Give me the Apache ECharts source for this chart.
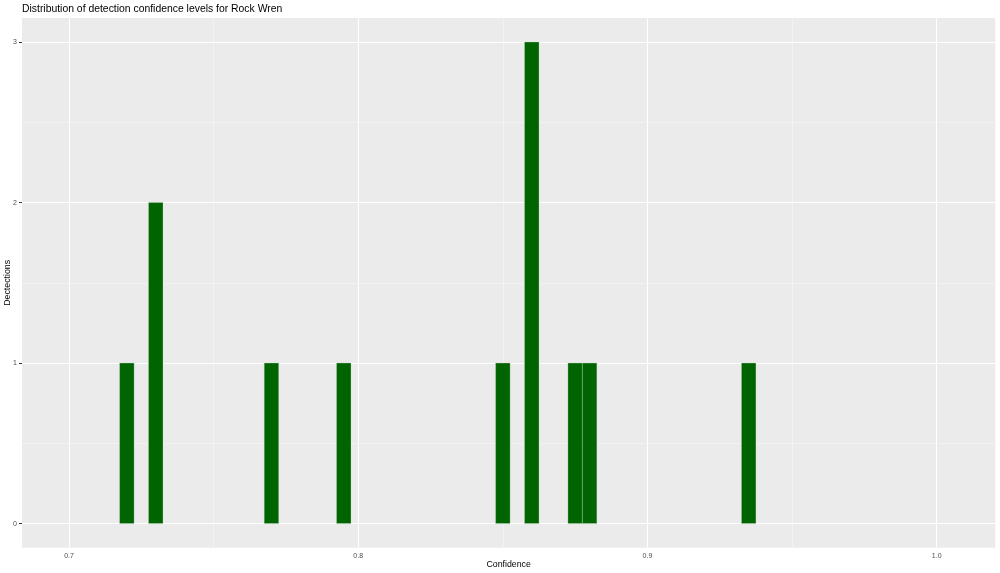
<!DOCTYPE html>
<html>
<head>
<meta charset="utf-8">
<script src="https://cdn.jsdelivr.net/npm/echarts@6/dist/echarts.min.js"></script>
<style>
html,body{margin:0;padding:0;background:#fff;}
#chart{width:1000px;height:573px;}
</style>
</head>
<body>
<div id="chart"></div>
<script>
// Data
const binCenters = [0.72, 0.73, 0.77, 0.795, 0.85, 0.86, 0.875, 0.88, 0.935];
const counts = [1, 2, 1, 1, 1, 3, 1, 1, 1];
const binWidth = 0.005;
const xTicks = [0.7, 0.8, 0.9, 1.0];
const xMinor = [0.75, 0.85, 0.95];
const yTicks = [0, 1, 2, 3];
const yMinor = [0.5, 1.5, 2.5];

const chart = echarts.init(document.getElementById('chart'), null, {renderer: 'canvas'});
const FONT = 'Liberation Sans, Arial, Helvetica, sans-serif';

const gridLines = [];
xTicks.forEach(v => gridLines.push({xAxis: v, lineStyle: {color: '#FFFFFF', width: 1.1, type: 'solid'}}));
xMinor.forEach(v => gridLines.push({xAxis: v, lineStyle: {color: '#F4F4F4', width: 0.8, type: 'solid'}}));
yTicks.forEach(v => gridLines.push({yAxis: v, lineStyle: {color: '#FFFFFF', width: 1.1, type: 'solid'}}));
yMinor.forEach(v => gridLines.push({yAxis: v, lineStyle: {color: '#F4F4F4', width: 0.8, type: 'solid'}}));

const option = {
  animation: false,
  backgroundColor: '#FFFFFF',
  title: {
    text: 'Distribution of detection confidence levels for Rock Wren',
    left: 22, top: 4, padding: 0,
    textStyle: {fontFamily: FONT, fontSize: 10.4, fontWeight: 'normal', color: '#000000'}
  },
  grid: {
    left: 22, right: 4.7, top: 18, bottom: 25.3,
    show: true, backgroundColor: '#EBEBEB', borderWidth: 0,
    containLabel: false,
    outerBoundsMode: 'none'
  },
  xAxis: {
    type: 'value',
    min: 0.68375, max: 1.02026,
    name: 'Confidence',
    nameLocation: 'middle',
    nameGap: 12,
    nameMoveOverlap: false,
    nameTextStyle: {fontFamily: FONT, fontSize: 8.8, color: '#000000', verticalAlign: 'top'},
    axisLine: {show: false},
    axisTick: {show: true, length: 3, lineStyle: {color: '#333333', width: 1}, customValues: xTicks},
    axisLabel: {show: true, customValues: xTicks, margin: 5, fontFamily: FONT, fontSize: 7, color: '#4D4D4D',
      formatter: v => v.toFixed(1)},
    splitLine: {show: false},
    minorSplitLine: {show: false}
  },
  yAxis: {
    type: 'value',
    min: -0.15, max: 3.15,
    name: 'Dectections',
    nameLocation: 'middle',
    nameGap: 10,
    nameRotate: 90,
    nameMoveOverlap: false,
    nameTextStyle: {fontFamily: FONT, fontSize: 8.8, color: '#000000'},
    axisLine: {show: false},
    axisTick: {show: true, length: 3, lineStyle: {color: '#333333', width: 1}, customValues: yTicks},
    axisLabel: {show: true, customValues: yTicks, margin: 5, fontFamily: FONT, fontSize: 7, color: '#4D4D4D'},
    splitLine: {show: false}
  },
  series: [
    {
      type: 'line',
      data: [],
      z: 1,
      silent: true,
      markLine: {
        silent: true,
        symbol: ['none', 'none'],
        label: {show: false},
        animation: false,
        lineStyle: {type: 'solid'},
        data: gridLines
      }
    },
    {
      type: 'custom',
      z: 5,
      data: binCenters.map((c, i) => [c, counts[i]]),
      encode: {x: 0, y: 1},
      renderItem: function (params, api) {
        const c = api.value(0);
        const n = api.value(1);
        const p0 = api.coord([c - binWidth / 2, n]);
        const p1 = api.coord([c + binWidth / 2, 0]);
        return {
          type: 'rect',
          shape: {x: p0[0], y: p0[1], width: p1[0] - p0[0], height: p1[1] - p0[1]},
          style: {fill: '#006400', stroke: 'rgba(200,220,200,0.6)', lineWidth: 0.5}
        };
      }
    }
  ]
};
chart.setOption(option);
</script>
</body>
</html>
